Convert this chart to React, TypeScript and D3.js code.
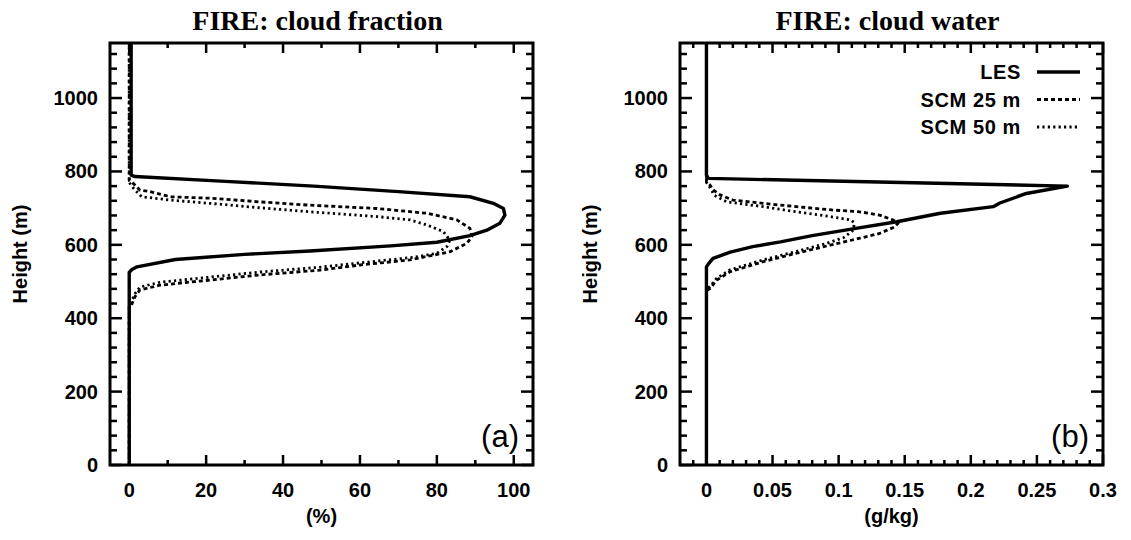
import React from 'react';
import * as d3 from 'd3';

// ---- data (height in m, value) ----
const heightTicks = [0, 200, 400, 600, 800, 1000];
const fracTicks = [0, 20, 40, 60, 80, 100];
const fracTickLabels = ['0', '20', '40', '60', '80', '100'];
const waterTicks = [0, 0.05, 0.1, 0.15, 0.2, 0.25, 0.3];
const waterTickLabels = ['0', '0.05', '0.1', '0.15', '0.2', '0.25', '0.3'];

const seriesNames = ['LES', 'SCM 25 m', 'SCM 50 m'];

// cloud fraction (%)
const lesFracZ = [0, 525, 532, 540, 560, 574, 583, 597, 607, 625, 640, 659, 681, 699, 713, 731, 745, 760, 773, 786, 790, 1150];
const lesFracV = [0, 0, 0.6, 2, 12, 30, 47, 68, 80, 88.6, 93, 96.4, 97.7, 97.3, 94.7, 88.6, 70, 48, 25, 1.5, 0.5, 0.5];
const scm25FracZ = [0, 430, 436, 459, 477, 490, 504, 518, 531, 545, 559, 581, 604, 622, 645, 668, 686, 699, 708, 717, 727, 731, 745, 749, 767, 775, 1150];
const scm25FracV = [0, 0, 0.6, 1.5, 2.8, 8, 21, 34, 49.6, 60, 73, 83.4, 87.8, 89.1, 88.6, 85.2, 77.4, 64.4, 47, 34, 21, 10.6, 5.4, 2.8, 1.1, 0, 0];
const scm50FracZ = [0, 440, 446, 467, 485, 498, 512, 526, 539, 553, 566, 577, 595, 613, 636, 654, 668, 677, 690, 701, 713, 722, 731, 754, 770, 1150];
const scm50FracV = [0, 0, 0.6, 1.5, 2.8, 8, 21, 34, 49.6, 62, 74, 80, 82.6, 83.4, 81.7, 77.4, 73, 64.4, 47, 34, 21, 10.6, 3.2, 1.1, 0, 0];

// cloud water (g/kg)
const lesWaterZ = [0, 540, 548, 563, 580, 595, 608, 625, 645, 663, 686, 704, 714, 740, 760, 781, 790, 1150];
const lesWaterV = [0, 0, 0.0015, 0.005, 0.018, 0.035, 0.056, 0.08, 0.113, 0.144, 0.177, 0.217, 0.222, 0.242, 0.273, 0.0015, 0, 0];
const scm25WaterZ = [0, 475, 481, 504, 527, 554, 577, 599, 618, 631, 648, 659, 668, 681, 690, 695, 704, 713, 722, 736, 750, 763, 772, 1150];
const scm25WaterV = [0, 0, 0.0027, 0.0078, 0.018, 0.043, 0.068, 0.0935, 0.116, 0.131, 0.142, 0.145, 0.141, 0.131, 0.116, 0.095, 0.068, 0.043, 0.02, 0.0103, 0.005, 0.0027, 0, 0];
const scm50WaterZ = [0, 480, 486, 509, 532, 559, 582, 603, 620, 640, 660, 668, 677, 690, 704, 717, 735, 760, 770, 1150];
const scm50WaterV = [0, 0, 0.0027, 0.0078, 0.018, 0.043, 0.068, 0.09, 0.104, 0.111, 0.112, 0.109, 0.0935, 0.068, 0.043, 0.0153, 0.006, 0.002, 0, 0];

const zip = (z: number[], v: number[]) => z.map((h, i) => [v[i], h] as [number, number]);

const TOP = 43;
const BOTTOM = 465;
const PW = 423;
const SANS = 'Liberation Sans, Arial, Helvetica, sans-serif';
const SERIF = 'Liberation Serif, Times New Roman, serif';

const styles = [
  { width: 3.4, dash: 'none' },
  { width: 2.8, dash: '4 3' },
  { width: 2.8, dash: '2.2 3.2' },
];

type PanelProps = {
  x0: number;
  domain: [number, number];
  ticks: number[];
  tickLabels: string[];
  minor: number[];
  title: string;
  xlabel: string;
  tag: string;
  series: [number, number][][];
  legend: boolean;
  clipId: string;
};

function Panel(p: PanelProps) {
  const x = d3.scaleLinear().domain(p.domain).range([p.x0, p.x0 + PW]);
  const y = d3.scaleLinear().domain([0, 1150]).range([BOTTOM, TOP]);
  const line = d3
    .line<[number, number]>()
    .x((d) => x(d[0]))
    .y((d) => y(d[1]));
  const yMinor = d3.range(0, 1150, 40).filter((v) => v % 200 !== 0);
  const x1 = p.x0 + PW;
  const cx = p.x0 + PW / 2;
  return (
    <g>
      <defs>
        <clipPath id={p.clipId}>
          <rect x={p.x0} y={TOP} width={PW} height={BOTTOM - TOP} />
        </clipPath>
      </defs>
      <text x={cx - 4} y={30} textAnchor="middle" fontFamily={SERIF} fontWeight="bold" fontSize={28}>
        {p.title}
      </text>
      {/* ticks */}
      <g stroke="#000" strokeWidth={2.5}>
        {p.ticks.map((t, i) => (
          <g key={'xt' + i}>
            <line x1={x(t)} x2={x(t)} y1={BOTTOM} y2={BOTTOM - 10} />
            <line x1={x(t)} x2={x(t)} y1={TOP} y2={TOP + 10} />
          </g>
        ))}
        {p.minor.map((t, i) => (
          <g key={'xm' + i}>
            <line x1={x(t)} x2={x(t)} y1={BOTTOM} y2={BOTTOM - 5} />
            <line x1={x(t)} x2={x(t)} y1={TOP} y2={TOP + 5} />
          </g>
        ))}
        {heightTicks.map((t, i) => (
          <g key={'yt' + i}>
            <line x1={p.x0} x2={p.x0 + 12} y1={y(t)} y2={y(t)} />
            <line x1={x1} x2={x1 - 12} y1={y(t)} y2={y(t)} />
          </g>
        ))}
        {yMinor.map((t, i) => (
          <g key={'ym' + i}>
            <line x1={p.x0} x2={p.x0 + 7} y1={y(t)} y2={y(t)} />
            <line x1={x1} x2={x1 - 7} y1={y(t)} y2={y(t)} />
          </g>
        ))}
      </g>
      <g fontFamily={SANS} fontWeight="bold" fontSize={20}>
        {p.ticks.map((t, i) => (
          <text key={'xl' + i} x={x(t)} y={497} textAnchor="middle">
            {p.tickLabels[i]}
          </text>
        ))}
        {heightTicks.map((t, i) => (
          <text key={'yl' + i} x={p.x0 - 12} y={y(t) + 7} textAnchor="end">
            {String(t)}
          </text>
        ))}
        <text x={cx} y={523} textAnchor="middle">
          {p.xlabel}
        </text>
        <text
          transform={`translate(${p.x0 - 83},${(TOP + BOTTOM) / 2}) rotate(-90)`}
          textAnchor="middle"
        >
          Height (m)
        </text>
      </g>
      {/* data lines */}
      <g clipPath={`url(#${p.clipId})`} fill="none" stroke="#000" strokeLinejoin="round">
        {[2, 1, 0].map((k) => (
          <path
            key={'s' + k}
            d={line(p.series[k]) || ''}
            strokeWidth={styles[k].width}
            strokeDasharray={styles[k].dash}
          />
        ))}
      </g>
      <rect x={p.x0} y={TOP} width={PW} height={BOTTOM - TOP} fill="none" stroke="#000" strokeWidth={3} />
      <text x={x1 - 14} y={447} textAnchor="end" fontFamily={SANS} fontSize={31}>
        {p.tag}
      </text>
      {p.legend && (
        <g fontFamily={SANS} fontWeight="bold" fontSize={20}>
          {seriesNames.map((n, k) => {
            const ly = 72 + k * 27.5;
            return (
              <g key={'lg' + k}>
                <text x={x1 - 82} y={ly + 7} textAnchor="end" letterSpacing={0.6}>
                  {n}
                </text>
                <line
                  x1={x1 - 66}
                  x2={x1 - 23}
                  y1={ly}
                  y2={ly}
                  stroke="#000"
                  strokeWidth={styles[k].width}
                  strokeDasharray={styles[k].dash}
                />
              </g>
            );
          })}
        </g>
      )}
    </g>
  );
}

export default function App() {
  const fracSeries = [zip(lesFracZ, lesFracV), zip(scm25FracZ, scm25FracV), zip(scm50FracZ, scm50FracV)];
  const waterSeries = [zip(lesWaterZ, lesWaterV), zip(scm25WaterZ, scm25WaterV), zip(scm50WaterZ, scm50WaterV)];
  const fracMinor = d3.range(10, 101, 20);
  const waterMinor = d3.range(-1, 30, 1).filter((v) => v % 5 !== 0).map((v) => v / 100);
  return (
    <svg
      width={1131}
      height={540}
      style={{ position: 'absolute', left: 0, top: 0, background: '#fff' }}
    >
      <rect x={0} y={0} width={1131} height={540} fill="#fff" />
      <Panel
        x0={110}
        domain={[-5, 105]}
        ticks={fracTicks}
        tickLabels={fracTickLabels}
        minor={fracMinor}
        title="FIRE: cloud fraction"
        xlabel="(%)"
        tag="(a)"
        series={fracSeries}
        legend={false}
        clipId="clipA"
      />
      <Panel
        x0={680}
        domain={[-0.02, 0.3]}
        ticks={waterTicks}
        tickLabels={waterTickLabels}
        minor={waterMinor}
        title="FIRE: cloud water"
        xlabel="(g/kg)"
        tag="(b)"
        series={waterSeries}
        legend={true}
        clipId="clipB"
      />
    </svg>
  );
}
